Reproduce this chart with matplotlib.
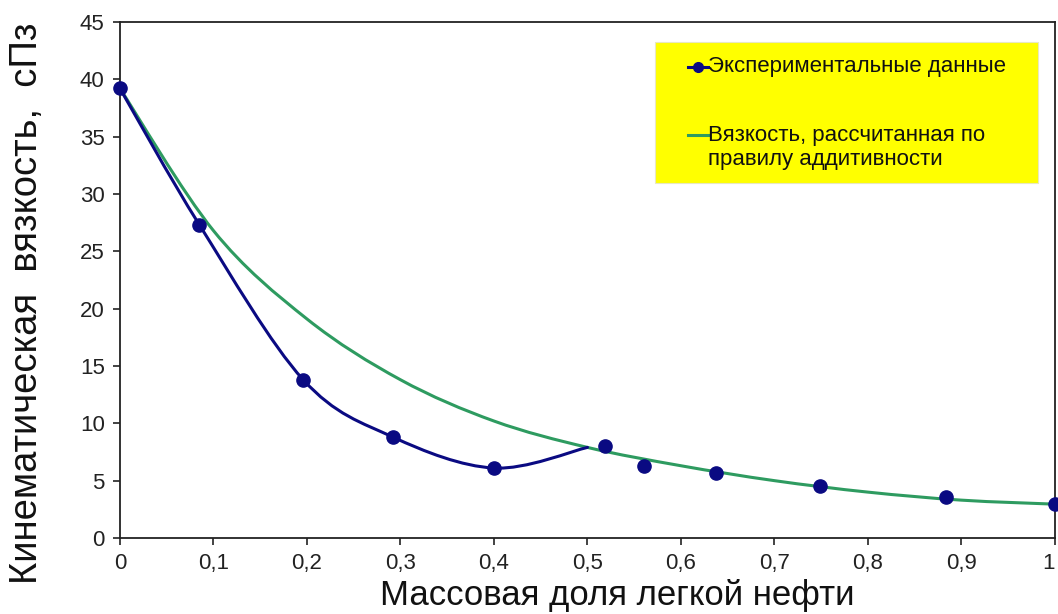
import matplotlib
matplotlib.use("Agg")
import matplotlib.pyplot as plt
from matplotlib.path import Path
from matplotlib.patches import PathPatch, Rectangle
from matplotlib.lines import Line2D

plt.rcParams['font.family'] = ['Liberation Sans', 'DejaVu Sans']

# ---- data ----
exp_x = [0.0, 0.085, 0.196, 0.292, 0.40, 0.519, 0.561, 0.637, 0.749, 0.884, 1.0]
exp_y = [39.2, 27.3, 13.8, 8.8, 6.1, 8.05, 6.3, 5.7, 4.55, 3.6, 2.95]

# smoothed experimental curve (drawn only up to ~0.5)
exp_curve_x = [0.0, 0.085, 0.196, 0.292, 0.40, 0.50]
exp_curve_y = [39.2, 27.3, 13.8, 8.8, 6.1, 7.9]

add_x = [0.0, 0.1, 0.2, 0.3, 0.4, 0.5, 0.6, 0.7, 0.8, 0.9, 1.0]
add_y = [39.2, 26.8, 19.1, 13.8, 10.2, 7.9, 6.3, 5.0, 4.0, 3.3, 2.95]

x_ticks = [0, 0.1, 0.2, 0.3, 0.4, 0.5, 0.6, 0.7, 0.8, 0.9, 1.0]
x_tick_labels = ['0', '0,1', '0,2', '0,3', '0,4', '0,5', '0,6', '0,7', '0,8', '0,9', '1']
y_ticks = [0, 5, 10, 15, 20, 25, 30, 35, 40, 45]

label_exp = 'Экспериментальные данные'
label_add = 'Вязкость, рассчитанная по\nправилу аддитивности'
x_label = 'Массовая доля легкой нефти'
y_label = 'Кинематическая  вязкость,  сПз'

BLUE = '#0A0A82'
GREEN = '#2E9B60'


def smooth_path(xs, ys):
    """Excel-like smoothed line: cubic Bezier segments (Catmull-Rom)."""
    n = len(xs)
    verts = [(xs[0], ys[0])]
    codes = [Path.MOVETO]
    for i in range(n - 1):
        x0, y0 = (xs[i - 1], ys[i - 1]) if i > 0 else (xs[i], ys[i])
        x1, y1 = xs[i], ys[i]
        x2, y2 = xs[i + 1], ys[i + 1]
        x3, y3 = (xs[i + 2], ys[i + 2]) if i + 2 < n else (xs[i + 1], ys[i + 1])
        c1 = (x1 + (x2 - x0) / 6.0, y1 + (y2 - y0) / 6.0)
        c2 = (x2 - (x3 - x1) / 6.0, y2 - (y3 - y1) / 6.0)
        verts += [c1, c2, (x2, y2)]
        codes += [Path.CURVE4] * 3
    return Path(verts, codes)


fig = plt.figure(figsize=(10.58, 6.14), dpi=100)
ax = fig.add_axes([0.1134, 0.1238, 0.8837, 0.8404])

ax.add_patch(PathPatch(smooth_path(add_x, add_y), facecolor='none',
                       edgecolor=GREEN, lw=2.2, zorder=3, capstyle='round'))
ax.add_patch(PathPatch(smooth_path(exp_curve_x, exp_curve_y), facecolor='none',
                       edgecolor=BLUE, lw=2.2, zorder=4, capstyle='round'))
ax.plot(exp_x, exp_y, linestyle='none', marker='o', markersize=9.5,
        color=BLUE, zorder=5, clip_on=False)

ax.set_xlim(0, 1)
ax.set_ylim(0, 45)
ax.set_xticks(x_ticks)
ax.set_xticklabels(x_tick_labels)
ax.set_yticks(y_ticks)
ax.tick_params(axis='both', direction='out', length=5, width=1.2,
               labelsize=16, colors='#222222')
ax.tick_params(axis='x', pad=6)
ax.tick_params(axis='y', pad=6)
ax.get_xticklabels()[-1].set_horizontalalignment('right')
for s in ax.spines.values():
    s.set_linewidth(1.3)
    s.set_color('#222222')

ax.set_xlabel(x_label, fontsize=25, color='#111111')
ax.xaxis.set_label_coords(0.5316, -0.080)
ax.set_ylabel(y_label, fontsize=27.5, color='#111111')
ax.yaxis.set_label_coords(-0.080, 0.455)

# ---- legend (yellow box) ----
ax.add_patch(Rectangle((0.572, 0.688), 0.4096, 0.273, transform=ax.transAxes,
                       facecolor='#FFFF00', edgecolor='#E8E8C0', lw=0.8,
                       zorder=6, clip_on=False))
ax.add_line(Line2D([0.6075, 0.6289], [0.9128, 0.9128], transform=ax.transAxes,
                   color=BLUE, lw=2.2, zorder=7))
ax.add_line(Line2D([0.618], [0.9128], transform=ax.transAxes, color=BLUE,
                   marker='o', markersize=7, zorder=8))
ax.text(0.6289, 0.9128, label_exp, transform=ax.transAxes, fontsize=16,
        va='center', ha='left', zorder=8, color='#111111')
ax.add_line(Line2D([0.6075, 0.6289], [0.781, 0.781], transform=ax.transAxes,
                   color=GREEN, lw=2.2, zorder=7))
ax.text(0.6289, 0.7568, label_add, transform=ax.transAxes, fontsize=16,
        va='center', ha='left', zorder=8, linespacing=1.15, color='#111111')

fig.savefig('out.png', dpi=100)
